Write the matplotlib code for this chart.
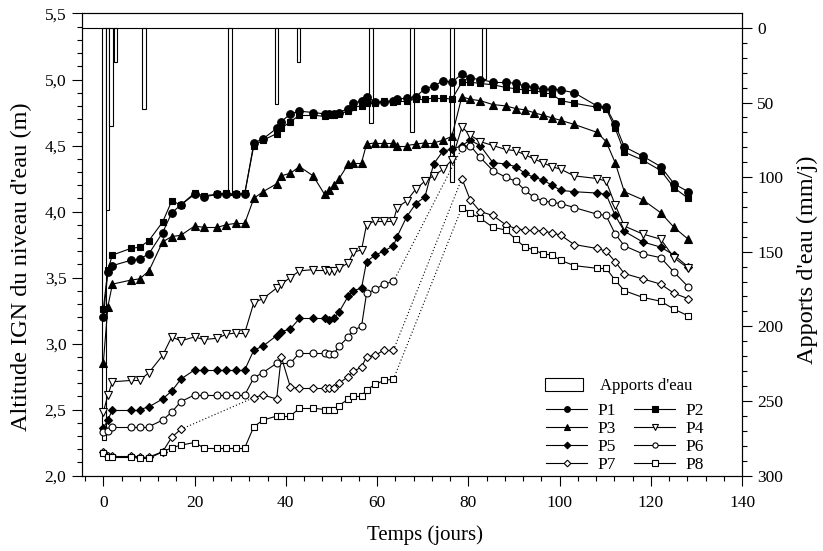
import numpy as np
import matplotlib
matplotlib.use('Agg')
import matplotlib.pyplot as plt
from matplotlib.ticker import MultipleLocator, FuncFormatter
from matplotlib.patches import Rectangle

plt.rcParams['font.family'] = ['Liberation Serif', 'DejaVu Serif']

NaN = np.nan

days = [0, 1, 2, 6, 8, 10, 13, 15, 17, 20, 22, 25, 27, 29, 31, 33, 35, 38, 39, 41,
        43, 46, 48.5, 49.5, 50.5, 51.7, 53.7, 54.8, 56.6, 57.7, 59.6, 61.5, 63.6, 64.4,
        66.5, 68.5, 70.5, 72.4, 74.5, 76.4, 78.6, 80.4, 82.6, 85.4, 88.2, 90.4, 92.4,
        94.3, 96.3, 98.3, 100.3, 103.2, 108.2, 110.2, 112.2, 114.2, 118.2, 122.2, 125.1, 128.2]

p1 = [3.20, 3.54, 3.59, 3.63, 3.64, 3.68, 3.84, 3.99, 4.05, 4.13, 4.11, 4.13, 4.13, 4.13, 4.13,
      4.52, 4.55, 4.63, 4.68, 4.74, 4.76, 4.75, 4.74, 4.74, 4.74, 4.75, 4.78, 4.82, 4.84, 4.87,
      4.83, 4.83, 4.84, 4.85, 4.86, 4.87, 4.93, 4.95, 4.99, 4.98, 5.04, 5.01, 5.00, 4.98, 4.98,
      4.97, 4.95, 4.94, 4.93, 4.93, 4.92, 4.90, 4.80, 4.79, 4.66, 4.49, 4.42, 4.34, 4.21, 4.15]
p2 = [3.26, 3.56, 3.67, 3.72, 3.73, 3.78, 3.92, 4.08, 4.05, 4.14, 4.12, 4.13, 4.14, 4.13, 4.14,
      4.50, 4.54, 4.59, 4.63, 4.68, 4.73, 4.73, 4.72, 4.73, 4.73, 4.74, 4.76, 4.79, 4.80, 4.82,
      4.82, 4.84, 4.83, 4.84, 4.84, 4.85, 4.85, 4.86, 4.86, 4.85, 4.98, 4.98, 4.97, 4.96, 4.94,
      4.93, 4.92, 4.92, 4.90, 4.89, 4.84, 4.82, 4.79, 4.78, 4.63, 4.45, 4.39, 4.31, 4.18, 4.10]
p3 = [2.85, 3.28, 3.45, 3.48, 3.49, 3.55, 3.77, 3.81, 3.82, 3.89, 3.88, 3.88, 3.90, 3.91, 3.91,
      4.10, 4.15, 4.21, 4.27, 4.29, 4.34, 4.27, 4.13, 4.16, 4.20, 4.25, 4.36, 4.37, 4.37, 4.51,
      4.52, 4.52, 4.52, 4.50, 4.50, 4.51, 4.52, 4.52, 4.54, 4.57, 4.87, 4.85, 4.84, 4.81, 4.80,
      4.78, 4.77, 4.75, 4.73, 4.71, 4.69, 4.66, 4.60, 4.53, 4.37, 4.15, 4.09, 3.99, 3.88, 3.79]
p4 = [2.48, 2.61, 2.71, 2.72, 2.72, 2.78, 2.91, 3.05, 3.02, 3.05, 3.03, 3.04, 3.07, 3.08, 3.08,
      3.31, 3.34, 3.42, 3.45, 3.50, 3.55, 3.56, 3.56, 3.55, 3.55, 3.57, 3.61, 3.69, 3.71, 3.90,
      3.93, 3.93, 3.93, 4.03, 4.08, 4.17, 4.23, 4.27, 4.32, 4.39, 4.64, 4.58, 4.53, 4.50, 4.47,
      4.46, 4.43, 4.40, 4.37, 4.34, 4.32, 4.27, 4.25, 4.23, 4.05, 3.89, 3.83, 3.79, 3.65, 3.57]
p5 = [2.36, 2.42, 2.50, 2.50, 2.50, 2.52, 2.58, 2.64, 2.73, 2.80, 2.80, 2.80, 2.80, 2.80, 2.80,
      2.95, 2.98, 3.06, 3.09, 3.11, 3.19, 3.19, 3.19, 3.18, 3.19, 3.24, 3.36, 3.40, 3.42, 3.62,
      3.67, 3.70, 3.74, 3.81, 3.96, 4.06, 4.11, 4.36, 4.46, 4.47, 4.50, 4.54, 4.50, 4.37, 4.36,
      4.34, 4.29, 4.26, 4.24, 4.20, 4.16, 4.15, 4.14, 4.13, 3.97, 3.85, 3.77, 3.73, 3.67, 3.58]
p6 = [2.33, 2.34, 2.37, 2.37, 2.37, 2.37, 2.42, 2.48, 2.56, 2.61, 2.61, 2.61, 2.61, 2.61, 2.61,
      2.74, 2.78, 2.85, NaN, 2.85, 2.93, 2.93, 2.93, 2.92, 2.92, 2.98, 3.05, 3.10, 3.13, 3.38,
      3.41, 3.45, 3.47, NaN, NaN, NaN, NaN, NaN, NaN, NaN, 4.48, 4.50, 4.41, 4.31, 4.26,
      4.23, 4.16, 4.11, 4.08, 4.07, 4.06, 4.03, 3.98, 3.97, 3.83, 3.74, 3.68, 3.65, 3.54, 3.43]
p7 = [2.18, 2.15, 2.15, 2.15, 2.14, 2.14, 2.18, 2.29, 2.35, NaN, NaN, NaN, NaN, NaN, NaN,
      2.59, 2.61, 2.58, 2.90, 2.67, 2.66, 2.66, 2.66, 2.66, 2.66, 2.70, 2.75, 2.79, 2.82, 2.90,
      2.91, 2.95, 2.95, NaN, NaN, NaN, NaN, NaN, NaN, NaN, 4.25, 4.09, 4.00, 3.97, 3.90,
      3.87, 3.86, 3.86, 3.85, 3.84, 3.82, 3.75, 3.72, 3.70, 3.62, 3.53, 3.49, 3.45, 3.38, 3.34]
p8 = [2.17, 2.14, 2.14, 2.14, 2.13, 2.13, 2.18, 2.21, 2.23, 2.25, 2.21, 2.21, 2.21, 2.21, 2.21,
      2.37, 2.42, 2.45, 2.45, 2.45, 2.51, 2.51, 2.50, 2.50, 2.50, 2.53, 2.58, 2.60, 2.60, 2.65,
      2.69, 2.72, 2.73, NaN, NaN, NaN, NaN, NaN, NaN, NaN, 4.03, 3.99, 3.95, 3.88, 3.86,
      3.79, 3.73, 3.71, 3.68, 3.67, 3.63, 3.59, 3.57, 3.57, 3.48, 3.40, 3.35, 3.32, 3.26, 3.21]

# dotted connections (missing measurements)
gaps = {'P6': [(63.6, 78.6)], 'P7': [(17, 33), (63.6, 78.6)], 'P8': [(63.6, 78.6)]}

rain_days = [0.15, 0.9, 1.7, 2.7, 8.9, 27.8, 37.9, 42.8, 58.7, 67.7, 76.4, 83.4]
rain_mm = [276, 122, 66, 23, 54, 112, 51, 23, 64, 70, 103, 34]

x_ticks = [0, 20, 40, 60, 80, 100, 120, 140]
y_ticks = [2.0, 2.5, 3.0, 3.5, 4.0, 4.5, 5.0, 5.5]
r_ticks = [0, 50, 100, 150, 200, 250, 300]

series = [
    ('P1', p1, 'o', 'black', 5.5),
    ('P3', p3, '^', 'black', 5.5),
    ('P5', p5, 'D', 'black', 4.5),
    ('P7', p7, 'D', 'white', 4.5),
    ('P2', p2, 's', 'black', 5.0),
    ('P4', p4, 'v', 'white', 5.5),
    ('P6', p6, 'o', 'white', 5.0),
    ('P8', p8, 's', 'white', 5.0),
]

fig = plt.figure(figsize=(8.23, 5.51), dpi=100)
ax = fig.add_axes([0.0993, 0.137, 0.8023, 0.8385])
ax2 = ax.twinx()

FS = 12.5

# rain bars (hanging from the top)
ax2.bar(rain_days, rain_mm, width=0.75, bottom=0, facecolor='white',
        edgecolor='black', linewidth=0.8, zorder=2)
ax2.axhline(0, color='black', lw=0.8, zorder=3)
ax2.set_ylim(300, -9.7)
ax2.yaxis.set_minor_locator(MultipleLocator(10))
ax2.set_yticks(r_ticks)
ax2.set_ylabel("Apports d'eau (mm/j)", fontsize=17.5, labelpad=10)
ax2.yaxis.label.set_y(0.466)

ax.set_zorder(ax2.get_zorder() + 1)
ax.patch.set_visible(False)

handles = []
x_all = np.array(days, dtype=float)
for name, vals, mk, face, ms in series:
    y = np.array(vals, dtype=float)
    m = ~np.isnan(y)
    xv, yv = x_all[m], y[m]
    for i in range(len(xv) - 1):
        dotted = any(abs(xv[i] - a) < 1e-6 and abs(xv[i + 1] - b) < 1e-6
                     for a, b in gaps.get(name, []))
        ax.plot(xv[i:i + 2], yv[i:i + 2], color='black', lw=0.8,
                ls=(0, (1, 2)) if dotted else '-', zorder=3)
    ax.plot(xv, yv, ls='none', marker=mk, mfc=face, mec='black', ms=ms, mew=0.8, zorder=4)
    handles.append(plt.Line2D([], [], color='black', lw=0.8, marker=mk, mfc=face,
                              mec='black', ms=ms * 0.75, mew=0.8, label=name))

ax.set_xlim(-4.73, 140)
ax.set_ylim(2.0, 5.5)
ax.set_xticks(x_ticks)
ax.set_yticks(y_ticks)
ax.xaxis.set_minor_locator(MultipleLocator(4))
ax.yaxis.set_minor_locator(MultipleLocator(0.1))
ax.yaxis.set_major_formatter(FuncFormatter(lambda v, p: f"{v:.1f}".replace('.', ',')))

for a in (ax, ax2):
    a.tick_params(which='major', direction='out', length=7, width=0.8, labelsize=FS, pad=4)
    a.tick_params(which='minor', direction='out', length=3.5, width=0.8)
    for s in a.spines.values():
        s.set_linewidth(0.8)
ax.tick_params(axis='x', pad=7)

ax.set_xlabel('Temps (jours)', fontsize=15, labelpad=10)
ax.xaxis.label.set_x(0.52)
ax.set_ylabel("Altitude IGN du niveau d'eau (m)", fontsize=17.5, labelpad=9)
ax.yaxis.label.set_y(0.453)

leg1 = ax.legend(handles=[Rectangle((0, 0), 1, 1, facecolor='white', edgecolor='black', lw=0.8)],
                 labels=["Apports d'eau"], loc='upper left', bbox_to_anchor=(0.686, 0.232),
                 frameon=False, fontsize=FS - 0.5, handlelength=2.3, handleheight=0.75,
                 handletextpad=1.0, borderpad=0.1)
ax.add_artist(leg1)
ax.legend(handles=handles, loc='upper left', bbox_to_anchor=(0.687, 0.18), ncol=2,
          frameon=False, fontsize=FS, handlelength=2.4, handletextpad=0.6,
          columnspacing=1.0, labelspacing=0.1, borderpad=0.1)

fig.savefig('out.png', dpi=100)
